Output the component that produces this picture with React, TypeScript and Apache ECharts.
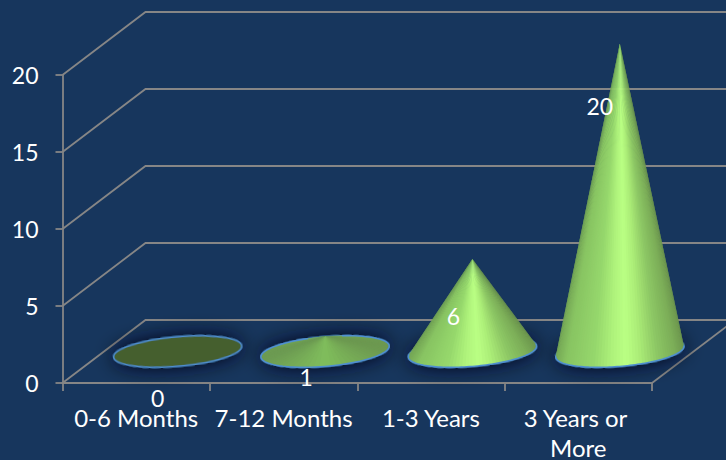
import React, { useEffect, useRef } from "react";
import * as echarts from "echarts";

const categories = ["0-6 Months", "7-12 Months", "1-3 Years", "3 Years or More"];
const values = [0, 1, 6, 20];
const yTicks = [0, 5, 10, 15, 20];
const labelOffsets = [[-20, 15], [-19, 9], [-19, 25], [-20, 31]];

const BG = "#17365d";
const LINE = "#868686";
const FONT = "Lato, 'Open Sans', sans-serif";
const DEPTH_X = 83;
const DEPTH_Y = -63;
const RX = 64.3;
const RY = 14.8;
const TILT = (5 * Math.PI) / 180;

const tallStops: [number, number[]][] = [
  [0, [118, 168, 86]],
  [0.08, [136, 196, 98]],
  [0.3, [150, 216, 108]],
  [0.45, [176, 244, 124]],
  [0.55, [186, 255, 132]],
  [0.65, [172, 238, 120]],
  [0.8, [140, 198, 100]],
  [0.93, [124, 174, 88]],
  [1, [110, 152, 78]],
];
const flatStops: [number, number[]][] = [
  [0, [108, 154, 82]],
  [0.5, [128, 190, 92]],
  [1, [108, 152, 80]],
];

function shade(stops: [number, number[]][], f: number) {
  const g = Math.min(1, Math.max(0, f));
  for (let i = 1; i < stops.length; i++) {
    if (g <= stops[i][0]) {
      const [a, ca] = stops[i - 1];
      const [b, cb] = stops[i];
      const k = (g - a) / (b - a);
      const c = ca.map((v, j) => Math.round(v + (cb[j] - v) * k));
      return `rgb(${c[0]},${c[1]},${c[2]})`;
    }
  }
  return "rgb(110,152,78)";
}

function ellipsePoint(cx: number, cy: number, t: number) {
  const x = RX * Math.cos(t);
  const y = RY * Math.sin(t);
  return [
    cx + x * Math.cos(TILT) + y * Math.sin(TILT),
    cy - x * Math.sin(TILT) + y * Math.cos(TILT),
  ];
}

function coneParts(cx: number, cy: number, ax: number, ay: number, stops: [number, number[]][]) {
  const dx = ax - cx;
  const dy = ay - cy;
  const lx = dx * Math.cos(TILT) - dy * Math.sin(TILT);
  const ly = dx * Math.sin(TILT) + dy * Math.cos(TILT);
  const u = lx / RX;
  const v = ly / RY;
  const r = Math.hypot(u, v);
  const base = Math.atan2(v, u);
  const spread = r > 1 ? Math.acos(1 / r) : Math.PI;
  const from = base + spread;
  const span = 2 * Math.PI - 2 * spread;
  const out: any[] = [];
  const N = 64;
  const arc: number[][] = [];
  const xs: number[] = [];
  for (let i = 0; i <= 80; i++) {
    const p = ellipsePoint(cx, cy, from + (span * i) / 80);
    arc.push(p);
    xs.push(p[0]);
  }
  const xMin = Math.min(...xs);
  const xMax = Math.max(...xs);
  for (let i = 0; i < N; i++) {
    const t0 = from + (span * i) / N;
    const t1 = from + (span * Math.min(N, i + 1.8)) / N;
    const p0 = ellipsePoint(cx, cy, t0);
    const p1 = ellipsePoint(cx, cy, from + (span * (i + 0.5)) / N);
    const p2 = ellipsePoint(cx, cy, t1);
    const f = (p1[0] - xMin) / (xMax - xMin);
    out.push({
      type: "polygon",
      shape: { points: [[ax, ay], p0, p1, p2] },
      style: { fill: shade(stops, f) },
    });
  }
  out.push({
    type: "polyline",
    shape: { points: arc },
    style: { stroke: "#4f8fd0", lineWidth: 1.4, fill: "none" },
  });
  return out;
}

export default function App() {
  const ref = useRef<HTMLDivElement>(null);
  useEffect(() => {
    document.body.style.margin = "0";
    const chart = echarts.init(ref.current!, null, { renderer: "svg" });
    chart.setOption({
      animation: false,
      backgroundColor: BG,
      grid: { left: 62.5, right: 74, top: 75, bottom: 77, outerBoundsMode: "none" },
      xAxis: {
        type: "category",
        data: categories,
        axisLine: { lineStyle: { color: LINE, width: 1.8 } },
        axisTick: { show: true, length: 8, lineStyle: { color: LINE, width: 1.8 } },
        axisLabel: {
          color: "#ffffff",
          fontFamily: FONT,
          fontSize: 24,
          lineHeight: 30,
          margin: 19,
          width: 140,
          overflow: "break",
          interval: 0,
        },
      },
      yAxis: {
        type: "value",
        min: 0,
        max: 20,
        interval: 5,
        axisLine: { show: true, lineStyle: { color: LINE, width: 1.8 } },
        axisTick: { show: true, length: 7, lineStyle: { color: LINE, width: 1.8 } },
        splitLine: { show: false },
        axisLabel: {
          color: "#ffffff",
          fontFamily: FONT,
          fontSize: 23,
          margin: 24,
          padding: [8, 0, 0, 0],
        },
      },
      series: [
        {
          type: "custom",
          clip: false,
          silent: true,
          z: 1,
          data: yTicks.map((v) => [0, v]),
          renderItem: (params: any, api: any) => {
            const sys = params.coordSys;
            const y = api.coord([0, api.value(1)])[1];
            const children: any[] = [
              {
                type: "polyline",
                shape: {
                  points: [
                    [sys.x, y],
                    [sys.x + DEPTH_X, y + DEPTH_Y],
                    [sys.x + sys.width + DEPTH_X, y + DEPTH_Y],
                  ],
                },
                style: { stroke: LINE, lineWidth: 1.8, fill: "none" },
              },
            ];
            if (api.value(1) === 0) {
              children.push({
                type: "line",
                shape: {
                  x1: sys.x + sys.width,
                  y1: y,
                  x2: sys.x + sys.width + DEPTH_X,
                  y2: y + DEPTH_Y,
                },
                style: { stroke: LINE, lineWidth: 1.8 },
              });
            }
            return { type: "group", children };
          },
        },
        {
          type: "custom",
          clip: false,
          silent: true,
          z: 2,
          data: values.map((v, i) => [i, v]),
          renderItem: (params: any, api: any) => {
            const i = api.value(0);
            const v = api.value(1);
            const basePt = api.coord([i, 0]);
            const topPt = api.coord([i, v]);
            const cx = basePt[0] + DEPTH_X / 2;
            const cy = basePt[1] + DEPTH_Y / 2;
            const ax = cx;
            const ay = topPt[1] + DEPTH_Y / 2;
            const children: any[] = [
              {
                type: "ellipse",
                x: cx,
                y: cy,
                rotation: TILT,
                shape: { cx: 0, cy: 0, rx: RX, ry: RY },
                style: {
                  fill: v === 0 ? "#455f2f" : "#6d9a52",
                  stroke: "#4f8fd0",
                  lineWidth: 1.5,
                  shadowBlur: 20,
                  shadowColor: "#050e1c",
                },
              },
            ];
            if (v > 0) {
              children.push(...coneParts(cx, cy, ax, ay, v < 2 ? flatStops : tallStops));
            }
            const off = labelOffsets[i];
            children.push({
              type: "text",
              x: cx + off[0],
              y: topPt[1] + off[1],
              style: {
                text: String(v),
                fill: "#ffffff",
                font: `23px ${FONT}`,
                align: "center",
                verticalAlign: "middle",
              },
            });
            return { type: "group", children };
          },
        },
      ],
    });
    return () => chart.dispose();
  }, []);
  return <div ref={ref} style={{ width: 726, height: 460 }} />;
}
